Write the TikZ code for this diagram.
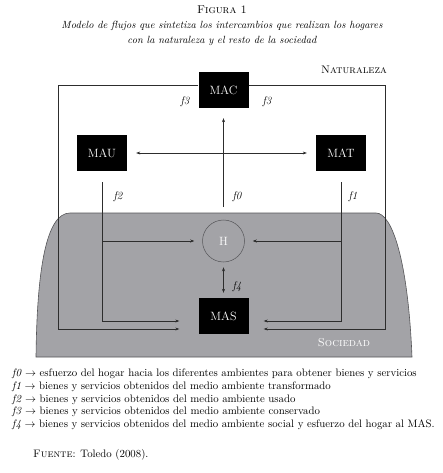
\documentclass[tikz,border=0pt]{standalone}
\usepackage{tikz}
\usetikzlibrary{arrows.meta,positioning,calc}
\definecolor{socgray}{RGB}{163,163,167}
\definecolor{edgegray}{RGB}{85,85,88}
\definecolor{linegray}{RGB}{45,45,45}

\begin{document}
\begin{tikzpicture}[x=1pt, y=-1pt,
  box/.style={rectangle, fill=black, text=white, minimum width=50pt,
              minimum height=36pt, inner sep=0pt, font=\fontsize{12}{14}\selectfont},
  arr/.style={-{Stealth[length=4pt,width=3pt]}, line width=0.5pt, color=linegray},
  dbl/.style={{Stealth[length=4pt,width=3pt]}-{Stealth[length=4pt,width=3pt]},
              line width=0.5pt, color=linegray},
  lbl/.style={font=\itshape\fontsize{11}{13}\selectfont},
  font=\fontsize{10.8}{13}\selectfont
]
  \useasboundingbox (0,0) rectangle (443,473);

  % title
  \node[font=\fontsize{11.3}{13}\selectfont] (fig) at (222,10) {\textsc{Figura 1}};
  \node[align=center, font=\itshape\fontsize{10.4}{15}\selectfont] (tit) at (222,33)
    {Modelo de flujos que sintetiza los intercambios que realizan los hogares\\
     con la naturaleza y el resto de la sociedad};

  % sociedad
  \draw[fill=socgray, draw=edgegray, line width=0.6pt]
    (36,357) .. controls (37,270) and (46,213) .. (70,213)
    -- (376,213) .. controls (392,213) and (408,260) .. (412,357) -- cycle;

  \node[font=\scshape\fontsize{11}{13}\selectfont] (nat) at (354,70) {Naturaleza};
  \node[font=\scshape\fontsize{11.5}{13}\selectfont, text=white] (soc) at (344,343) {Sociedad};

  % ambientes
  \node[box] (mac) at (223.5,90)  {MAC};
  \node[box] (mau) at (102,153)   {MAU};
  \node[box] (mat) at (341,153)   {MAT};
  \node[box] (mas) at (223.5,316) {MAS};
  \node[circle, draw=edgegray, line width=0.5pt, minimum size=42pt,
        inner sep=0pt, text=white, font=\fontsize{12}{14}\selectfont] (h) at (223.5,241) {H};

  \coordinate (f0) at ($(mac.south)+(0,99)$);

  % flujos
  \draw[dbl, shorten <=9pt, shorten >=9pt] (mau) -- (mat);
  \draw[arr, shorten >=10pt] (f0) -- (mac.south);
  \draw[arr, shorten >=19pt] ([yshift=5pt]mac.west) -| (58,329) -- ([yshift=-13pt]mas.west);
  \draw[arr, shorten >=15pt] ([yshift=5pt]mac.east) -| (385,329) -- ([yshift=-13pt]mas.east);
  \draw[arr, shorten >=19pt] ([yshift=-11pt]mau.south) |- ([yshift=-5pt]mas.west);
  \draw[arr, shorten >=15pt] ([yshift=-11pt]mat.south) |- ([yshift=-5pt]mas.east);
  \draw[arr, shorten >=8pt] (mau.south |- h.west) -- (h.west);
  \draw[arr, shorten >=8pt] (mat.south |- h.east) -- (h.east);
  \draw[dbl, shorten <=5pt, shorten >=5pt] (h) -- (mas);

  \node[lbl] at (185,102) {f3};
  \node[lbl] at (267,102) {f3};
  \node[lbl] at (118,197) {f2};
  \node[lbl] at (237,197) {f0};
  \node[lbl] at (353,197) {f1};
  \node[lbl] at (237,287) {f4};

  % leyenda
  \node[anchor=north west, align=left, inner sep=0pt,
        font=\fontsize{10.8}{12.6}\selectfont] (leg) at (12,369)
    {\textit{f0} $\rightarrow$ esfuerzo del hogar hacia los diferentes ambientes para obtener bienes y servicios\\
     \textit{f1} $\rightarrow$ bienes y servicios obtenidos del medio ambiente transformado\\
     \textit{f2} $\rightarrow$ bienes y servicios obtenidos del medio ambiente usado\\
     \textit{f3} $\rightarrow$ bienes y servicios obtenidos del medio ambiente conservado\\
     \textit{f4} $\rightarrow$ bienes y servicios obtenidos del medio ambiente social y esfuerzo del hogar al MAS.};
  \node[anchor=base west, inner sep=0pt] (src) at (33,457) {\textsc{Fuente}: Toledo (2008).};
\end{tikzpicture}
\end{document}
